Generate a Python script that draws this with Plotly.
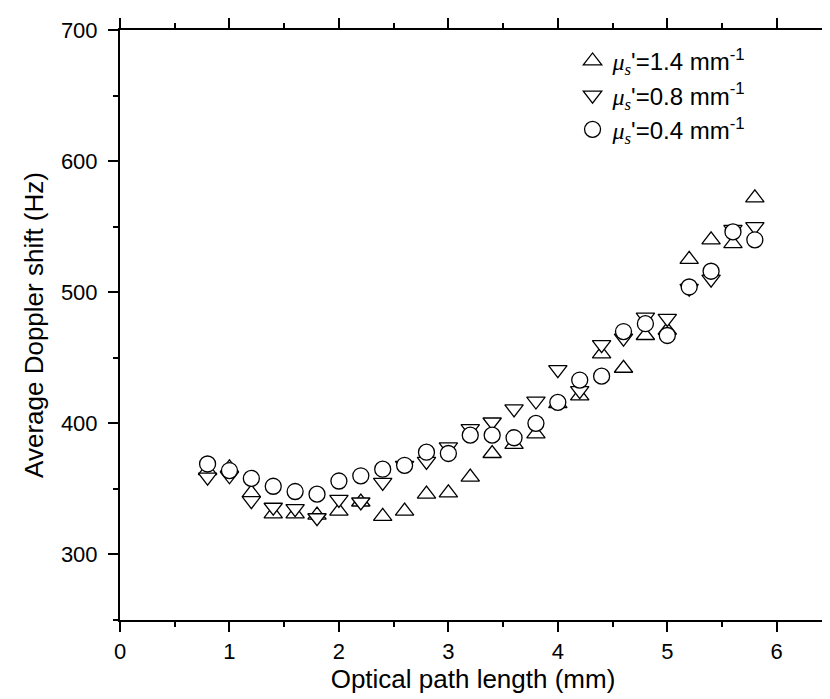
import plotly.graph_objects as go

x_mm = [0.8, 1.0, 1.2, 1.4, 1.6, 1.8, 2.0, 2.2, 2.4, 2.6, 2.8, 3.0, 3.2,
        3.4, 3.6, 3.8, 4.0, 4.2, 4.4, 4.6, 4.8, 5.0, 5.2, 5.4, 5.6, 5.8]

shift_14 = [364, 366, 347, 331, 331, 330, 333, 340, 329, 333, 346, 347, 359,
            377, 384, 392, 415, 421, 453, 442, 467, 471, 525, 540, 537, 572]
shift_08 = [359, 360, 341, 336, 335, 328, 342, 340, 355, 368, 371, 382, 396,
            401, 411, 417, 441, 425, 460, 465, 481, 480, 503, 510, 548, 550]
shift_04 = [369, 364, 358, 352, 348, 346, 356, 360, 365, 368, 378, 377, 391,
            391, 389, 400, 416, 433, 436, 470, 476, 467, 504, 516, 546, 540]

series_names = [
    "<span style='font-family:Liberation Serif'><i>μ<sub>s</sub></i></span>'=1.4 mm<sup>-1</sup>",
    "<span style='font-family:Liberation Serif'><i>μ<sub>s</sub></i></span>'=0.8 mm<sup>-1</sup>",
    "<span style='font-family:Liberation Serif'><i>μ<sub>s</sub></i></span>'=0.4 mm<sup>-1</sup>",
]
x_title = "Optical path length (mm)"
y_title = "Average Doppler shift (Hz)"

FONT = "Liberation Sans, Arial, sans-serif"

fig = go.Figure()
for vals, name, sym in [
    (shift_14, series_names[0], "triangle-up"),
    (shift_08, series_names[1], "triangle-down"),
    (shift_04, series_names[2], "circle"),
]:
    fig.add_trace(go.Scatter(
        x=x_mm, y=vals, mode="markers", name=name,
        marker=dict(symbol=sym, size=16, color="white", line=dict(width=1.3, color="black")),
    ))

axis_common = dict(
    showline=True, linecolor="black", linewidth=2,
    ticks="outside", tickcolor="black", tickwidth=2, ticklen=10,
    showgrid=False, zeroline=False, mirror="allticks",
    tickfont=dict(family=FONT, size=22, color="black"),
)

fig.update_xaxes(
    range=[0, 6.45], tick0=0, dtick=1,
    minor=dict(ticks="outside", dtick=0.5, ticklen=5, tickwidth=2, tickcolor="black"),
    title=dict(text=x_title, font=dict(family=FONT, size=26, color="black"), standoff=4),
    ticklabelstandoff=1,
    **axis_common,
)
fig.update_yaxes(
    range=[250, 700], tick0=300, dtick=100,
    minor=dict(ticks="outside", dtick=50, tick0=250, ticklen=5, tickwidth=2, tickcolor="black"),
    title=dict(text=y_title, font=dict(family=FONT, size=26, color="black"), standoff=10),
    ticklabelstandoff=6,
    **axis_common,
)

fig.update_layout(
    width=830, height=699,
    margin=dict(l=112, r=0, t=22, b=87),
    paper_bgcolor="white", plot_bgcolor="white",
    showlegend=True,
    legend=dict(
        x=0.641, y=0.985, xanchor="left", yanchor="top",
        bgcolor="rgba(0,0,0,0)", borderwidth=0,
        font=dict(family=FONT, size=24, color="black"),
        itemsizing="trace", tracegroupgap=0,
    ),
)

fig.write_html("out.html")
